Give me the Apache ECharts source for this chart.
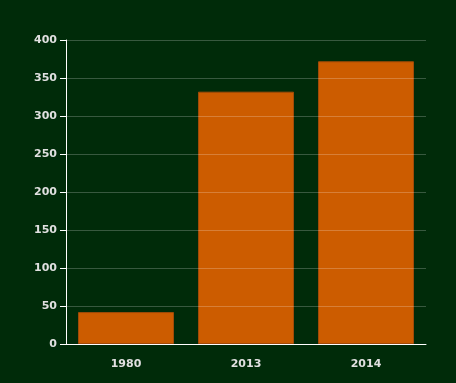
<!DOCTYPE html>
<html><head><meta charset="utf-8">
<script src="https://cdn.jsdelivr.net/npm/echarts@6/dist/echarts.min.js"></script>
<style>html,body{margin:0;padding:0;background:#002b09;}#c{width:456px;height:383px;}</style>
</head><body><div id="c"></div>
<script>
const categories = ['1980', '2013', '2014'];
const values = [42, 332, 372];
const yTicks = { min: 0, max: 400, interval: 50 };

const chart = echarts.init(document.getElementById('c'));
chart.setOption({
  backgroundColor: '#002b09',
  animation: false,
  grid: { left: 66, right: 30, top: 40, bottom: 39, containLabel: false },
  xAxis: {
    type: 'category', data: categories,
    axisLine: { lineStyle: { color: '#ffffff', width: 1 } },
    axisTick: { alignWithLabel: true, length: 6, lineStyle: { color: '#ffffff' } },
    axisLabel: { color: '#e0e0e0', fontFamily: 'DejaVu Sans', fontWeight: 'bold', fontSize: 11, margin: 15 }
  },
  yAxis: {
    type: 'value', min: yTicks.min, max: yTicks.max, interval: yTicks.interval, z: 3,
    axisLine: { show: true, lineStyle: { color: '#ffffff', width: 1 } },
    axisTick: { show: true, length: 6, lineStyle: { color: '#ffffff' } },
    axisLabel: { color: '#e0e0e0', fontFamily: 'DejaVu Sans', fontWeight: 'bold', fontSize: 11, margin: 9 },
    splitLine: { lineStyle: { color: 'rgba(255,255,255,0.22)', width: 1 } }
  },
  series: [{
    type: 'bar', data: values, barCategoryGap: '20%',
    itemStyle: { color: '#cc5c00', borderColor: '#a04a08', borderWidth: 1 }
  }]
});
</script></body></html>
